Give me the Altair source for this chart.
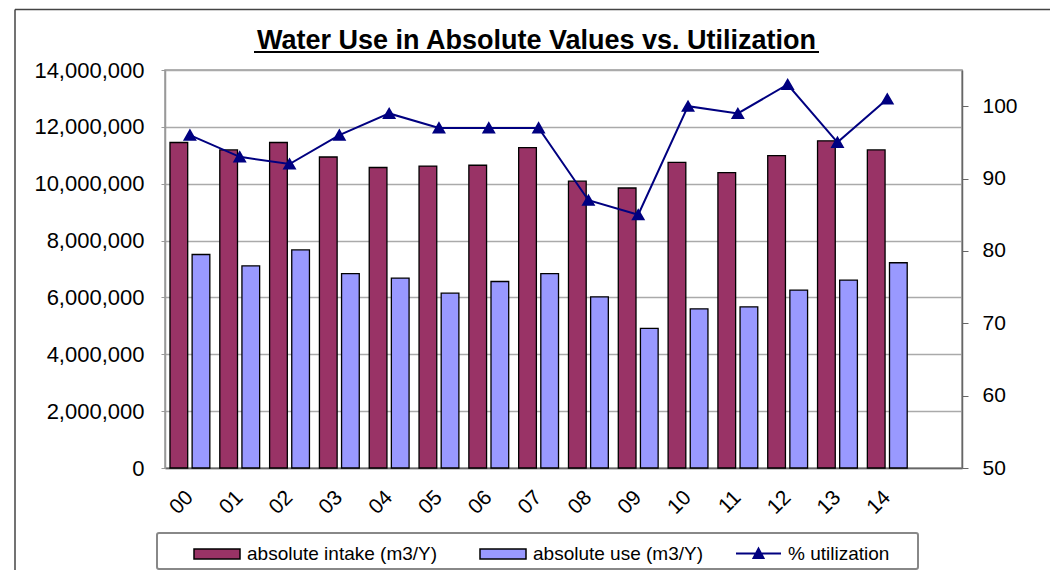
import altair as alt
import pandas as pd

# ---- data ----
years = ["00", "01", "02", "03", "04", "05", "06", "07", "08", "09", "10", "11", "12", "13", "14"]
intake = [11450000, 11190000, 11450000, 10940000, 10570000, 10620000, 10650000, 11270000,
          10090000, 9850000, 10750000, 10390000, 10990000, 11510000, 11190000]
use = [7510000, 7110000, 7670000, 6840000, 6680000, 6150000, 6560000, 6840000,
       6020000, 4910000, 5600000, 5670000, 6260000, 6610000, 7220000]
util = [96, 93, 92, 96, 99, 97, 97, 97, 87, 85, 100, 99, 103, 95, 101]
series_names = ["absolute intake (m3/Y)", "absolute use (m3/Y)"]
line_name = "% utilization"
left_ticks = [0, 2000000, 4000000, 6000000, 8000000, 10000000, 12000000, 14000000]
right_ticks = [50, 60, 70, 80, 90, 100]
title_text = "Water Use in Absolute Values vs. Utilization"

x_domain = years + [" "]
FONT = "Liberation Sans"

bars_df = pd.DataFrame({
    "year": years * 2,
    "series": [series_names[0]] * len(years) + [series_names[1]] * len(years),
    "value": intake + use,
})
line_df = pd.DataFrame({"year": years, "util": util, "s": [line_name] * len(years)})
deco_df = pd.DataFrame({"k": [0]})
title_df = pd.DataFrame({"t": [title_text]})

x_enc = alt.X(
    "year:N",
    scale=alt.Scale(domain=x_domain, paddingInner=0.2, paddingOuter=0.1),
    axis=alt.Axis(title=None, labelAngle=315, labelAlign="right", labelBaseline="middle",
                  ticks=False, labelPadding=26, labelFontSize=21, labelFont=FONT,
                  labelColor="black", domainColor="#666", domainWidth=1.5, grid=False,
                  labelOverlap=False),
)

bars = alt.Chart(bars_df).mark_bar(stroke="black", strokeWidth=1.3).encode(
    x=x_enc,
    xOffset=alt.XOffset("series:N", scale=alt.Scale(domain=series_names, paddingInner=0.2)),
    y=alt.Y("value:Q",
            scale=alt.Scale(domain=[0, 14000000], nice=False),
            axis=alt.Axis(title=None, orient="left", values=left_ticks, format=",.0f",
                          grid=True, gridColor="#aaa", gridWidth=1.5,
                          domainColor="#999", domainWidth=1.5, tickColor="#999",
                          tickSize=4, labelPadding=17, labelFontSize=22, labelFont=FONT,
                          labelColor="black", labelOverlap=False)),
    fill=alt.Fill("series:N", title=None,
                  scale=alt.Scale(domain=series_names, range=["#993366", "#9999FF"]),
                  legend=alt.Legend(orient="none", legendX=28, legendY=460,
                                    direction="horizontal",
                                    symbolType="M-1,-0.22H1V0.22H-1Z", symbolSize=2116,
                                    symbolStrokeColor="black", symbolStrokeWidth=1.5,
                                    labelOffset=6, columnPadding=39, labelFontSize=19,
                                    labelFont=FONT, labelColor="black", labelLimit=400,
                                    padding=0)),
)

line = alt.Chart(line_df).mark_line(
    strokeWidth=2,
    point=alt.OverlayMarkDef(shape="triangle-up", size=110, filled=True, fill="#000080"),
).encode(
    x=x_enc,
    y=alt.Y("util:Q",
            scale=alt.Scale(domain=[50, 105], nice=False, zero=False),
            axis=alt.Axis(title=None, orient="right", values=right_ticks, grid=False,
                          domainColor="#666", domainWidth=1.5, tickColor="#666",
                          tickSize=6, labelPadding=14, labelFontSize=21, labelFont=FONT,
                          labelColor="black", labelOverlap=False)),
    stroke=alt.Stroke("s:N", title=None,
                      scale=alt.Scale(domain=[line_name], range=["#000080"]),
                      legend=alt.Legend(orient="none", legendX=570, legendY=460,
                                        symbolType="M-1,0H1M-0.22,0.2L0,-0.22L0.22,0.2Z",
                                        symbolSize=2025, symbolStrokeWidth=2,
                                        labelOffset=6, labelFontSize=19, labelFont=FONT,
                                        labelColor="black", labelLimit=400, padding=0)),
)

title_mark = alt.Chart(title_df).mark_text(
    font=FONT, fontSize=27, fontWeight="bold", color="black",
    align="center", baseline="alphabetic",
).encode(text="t:N", x=alt.value(371.5), y=alt.value(-21))

left_border = alt.Chart(deco_df).mark_rule(color="#444", strokeWidth=1.5).encode(
    x=alt.value(-150), y=alt.value(-60.5), y2=alt.value(500))
top_border = alt.Chart(deco_df).mark_rule(color="#444", strokeWidth=1.5).encode(
    x=alt.value(-150), x2=alt.value(885), y=alt.value(-60.5))
underline = alt.Chart(deco_df).mark_rule(color="black", strokeWidth=2).encode(
    x=alt.value(89), x2=alt.value(654), y=alt.value(-18))
legend_box = alt.Chart(deco_df).mark_rect(fillOpacity=0, stroke="#888", strokeWidth=2,
                                          cornerRadius=2).encode(
    x=alt.value(-8), x2=alt.value(753), y=alt.value(463), y2=alt.value(499))

chart = alt.layer(bars, line, title_mark, left_border, top_border, underline,
                  legend_box).resolve_scale(
    y="independent"
).properties(
    width=797,
    height=398,
    padding={"left": 6, "top": 0, "right": 0, "bottom": 0},
).configure_view(stroke="#999", strokeWidth=1.5)

chart.save("out.html", embed_options={"renderer": "svg", "actions": False})
